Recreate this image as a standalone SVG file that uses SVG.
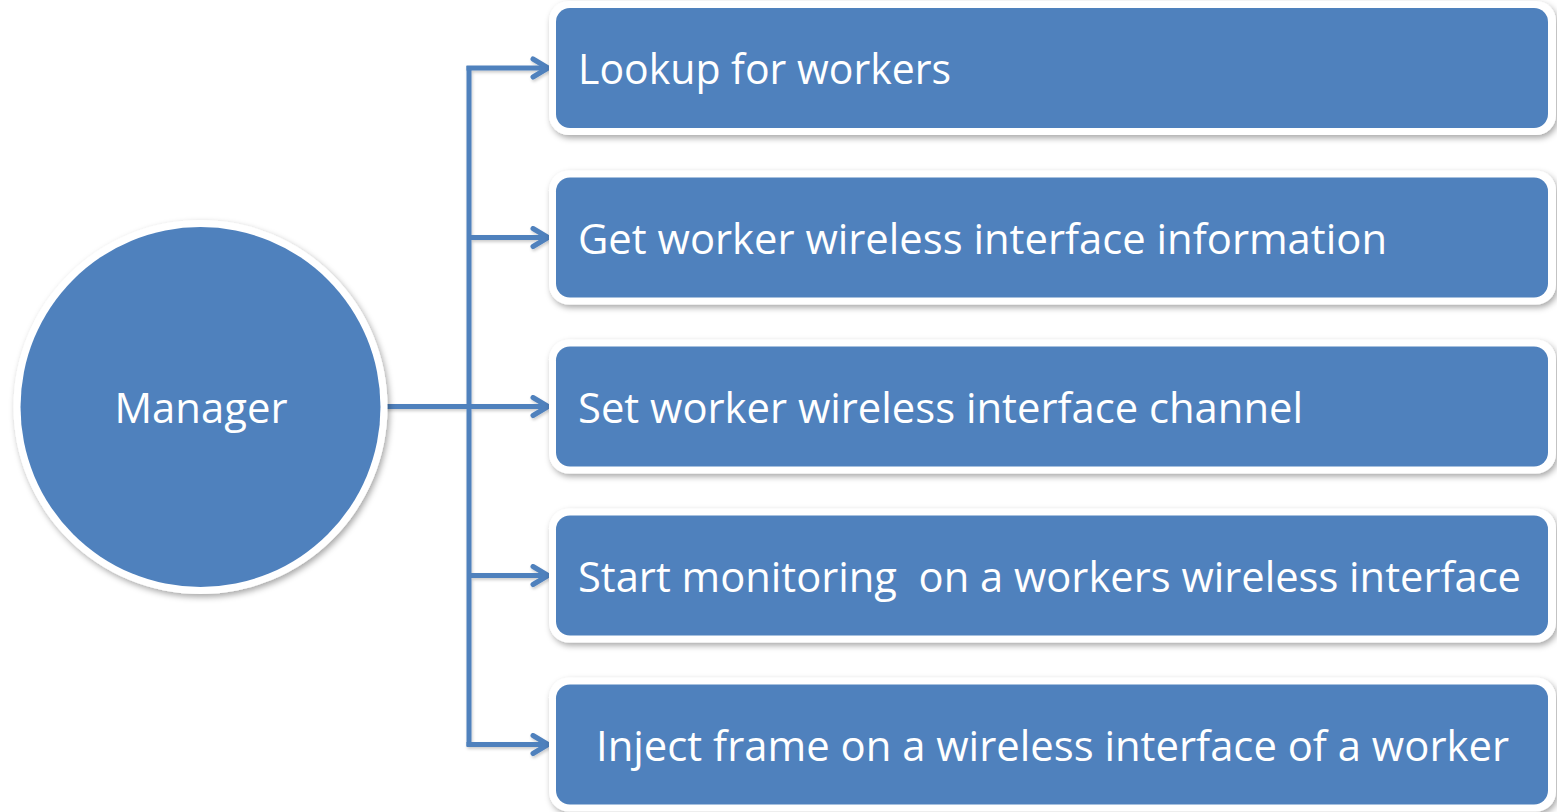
<svg xmlns="http://www.w3.org/2000/svg" width="1557" height="812" viewBox="0 0 1557 812">
  <style>
    .frame { fill: #ffffff; }
    .fill { fill: #4f81bd; }
    .label { font-family: "Open Sans", "Liberation Sans", sans-serif; font-size: 42px; fill: #ffffff; }
    .wire { fill: none; stroke: #4f81bd; stroke-width: 5; }
  </style>
  <defs>
    <filter id="shade" x="-10%" y="-20%" width="120%" height="150%">
      <feDropShadow dx="2" dy="3" stdDeviation="3" flood-color="#000" flood-opacity="0.35"/>
    </filter>
    <filter id="lineShade" x="-10%" y="-10%" width="120%" height="120%">
      <feDropShadow dx="1" dy="2" stdDeviation="1.5" flood-color="#000" flood-opacity="0.2"/>
    </filter>
    <marker id="chevron" viewBox="0 0 20 24" refX="18" refY="12" markerWidth="20" markerHeight="24" markerUnits="userSpaceOnUse" orient="auto">
      <path d="M3,3 L18,12 L3,21" fill="none" stroke="#4f81bd" stroke-width="5" stroke-linecap="round" stroke-linejoin="round"/>
    </marker>
  </defs>

  <!-- connectors: trunk and branches -->
  <g id="connectors" filter="url(#lineShade)">
    <path class="wire" d="M469,66 V746"/>
    <path class="wire" d="M383,406.5 H548" marker-end="url(#chevron)"/>
    <path class="wire" d="M466.5,68 H548" marker-end="url(#chevron)"/>
    <path class="wire" d="M469,237.5 H548" marker-end="url(#chevron)"/>
    <path class="wire" d="M469,575.5 H548" marker-end="url(#chevron)"/>
    <path class="wire" d="M466.5,744.5 H548" marker-end="url(#chevron)"/>
  </g>

  <g id="manager">
    <circle class="frame" cx="200.5" cy="407" r="187" filter="url(#shade)"/>
    <circle class="fill" cx="200.5" cy="407" r="180"/>
    <text class="label" x="201" y="423" text-anchor="middle" textLength="173" lengthAdjust="spacingAndGlyphs">Manager</text>
  </g>

  <g id="lookup">
    <rect class="frame" x="549" y="1" width="1007" height="134" rx="20" filter="url(#shade)"/>
    <rect class="fill" x="556" y="8" width="992" height="120" rx="14"/>
    <text class="label" x="578" y="84" textLength="373" lengthAdjust="spacingAndGlyphs">Lookup for workers</text>
  </g>

  <g id="get-info">
    <rect class="frame" x="549" y="170.5" width="1007" height="134" rx="20" filter="url(#shade)"/>
    <rect class="fill" x="556" y="177.5" width="992" height="120" rx="14"/>
    <text class="label" x="578" y="253.5" textLength="809" lengthAdjust="spacingAndGlyphs">Get worker wireless interface information</text>
  </g>

  <g id="set-channel">
    <rect class="frame" x="549" y="339.5" width="1007" height="134" rx="20" filter="url(#shade)"/>
    <rect class="fill" x="556" y="346.5" width="992" height="120" rx="14"/>
    <text class="label" x="578" y="423" textLength="725" lengthAdjust="spacingAndGlyphs">Set worker wireless interface channel</text>
  </g>

  <g id="start-monitoring">
    <rect class="frame" x="549" y="508.5" width="1007" height="134" rx="20" filter="url(#shade)"/>
    <rect class="fill" x="556" y="515.5" width="992" height="120" rx="14"/>
    <text class="label" x="578" y="592" textLength="943" lengthAdjust="spacingAndGlyphs" xml:space="preserve">Start monitoring  on a workers wireless interface</text>
  </g>

  <g id="inject-frame">
    <rect class="frame" x="549" y="677.5" width="1007" height="134" rx="20" filter="url(#shade)"/>
    <rect class="fill" x="556" y="684.5" width="992" height="120" rx="14"/>
    <text class="label" x="1052.5" y="761" text-anchor="middle" textLength="913" lengthAdjust="spacingAndGlyphs">Inject frame on a wireless interface of a worker</text>
  </g>
</svg>
